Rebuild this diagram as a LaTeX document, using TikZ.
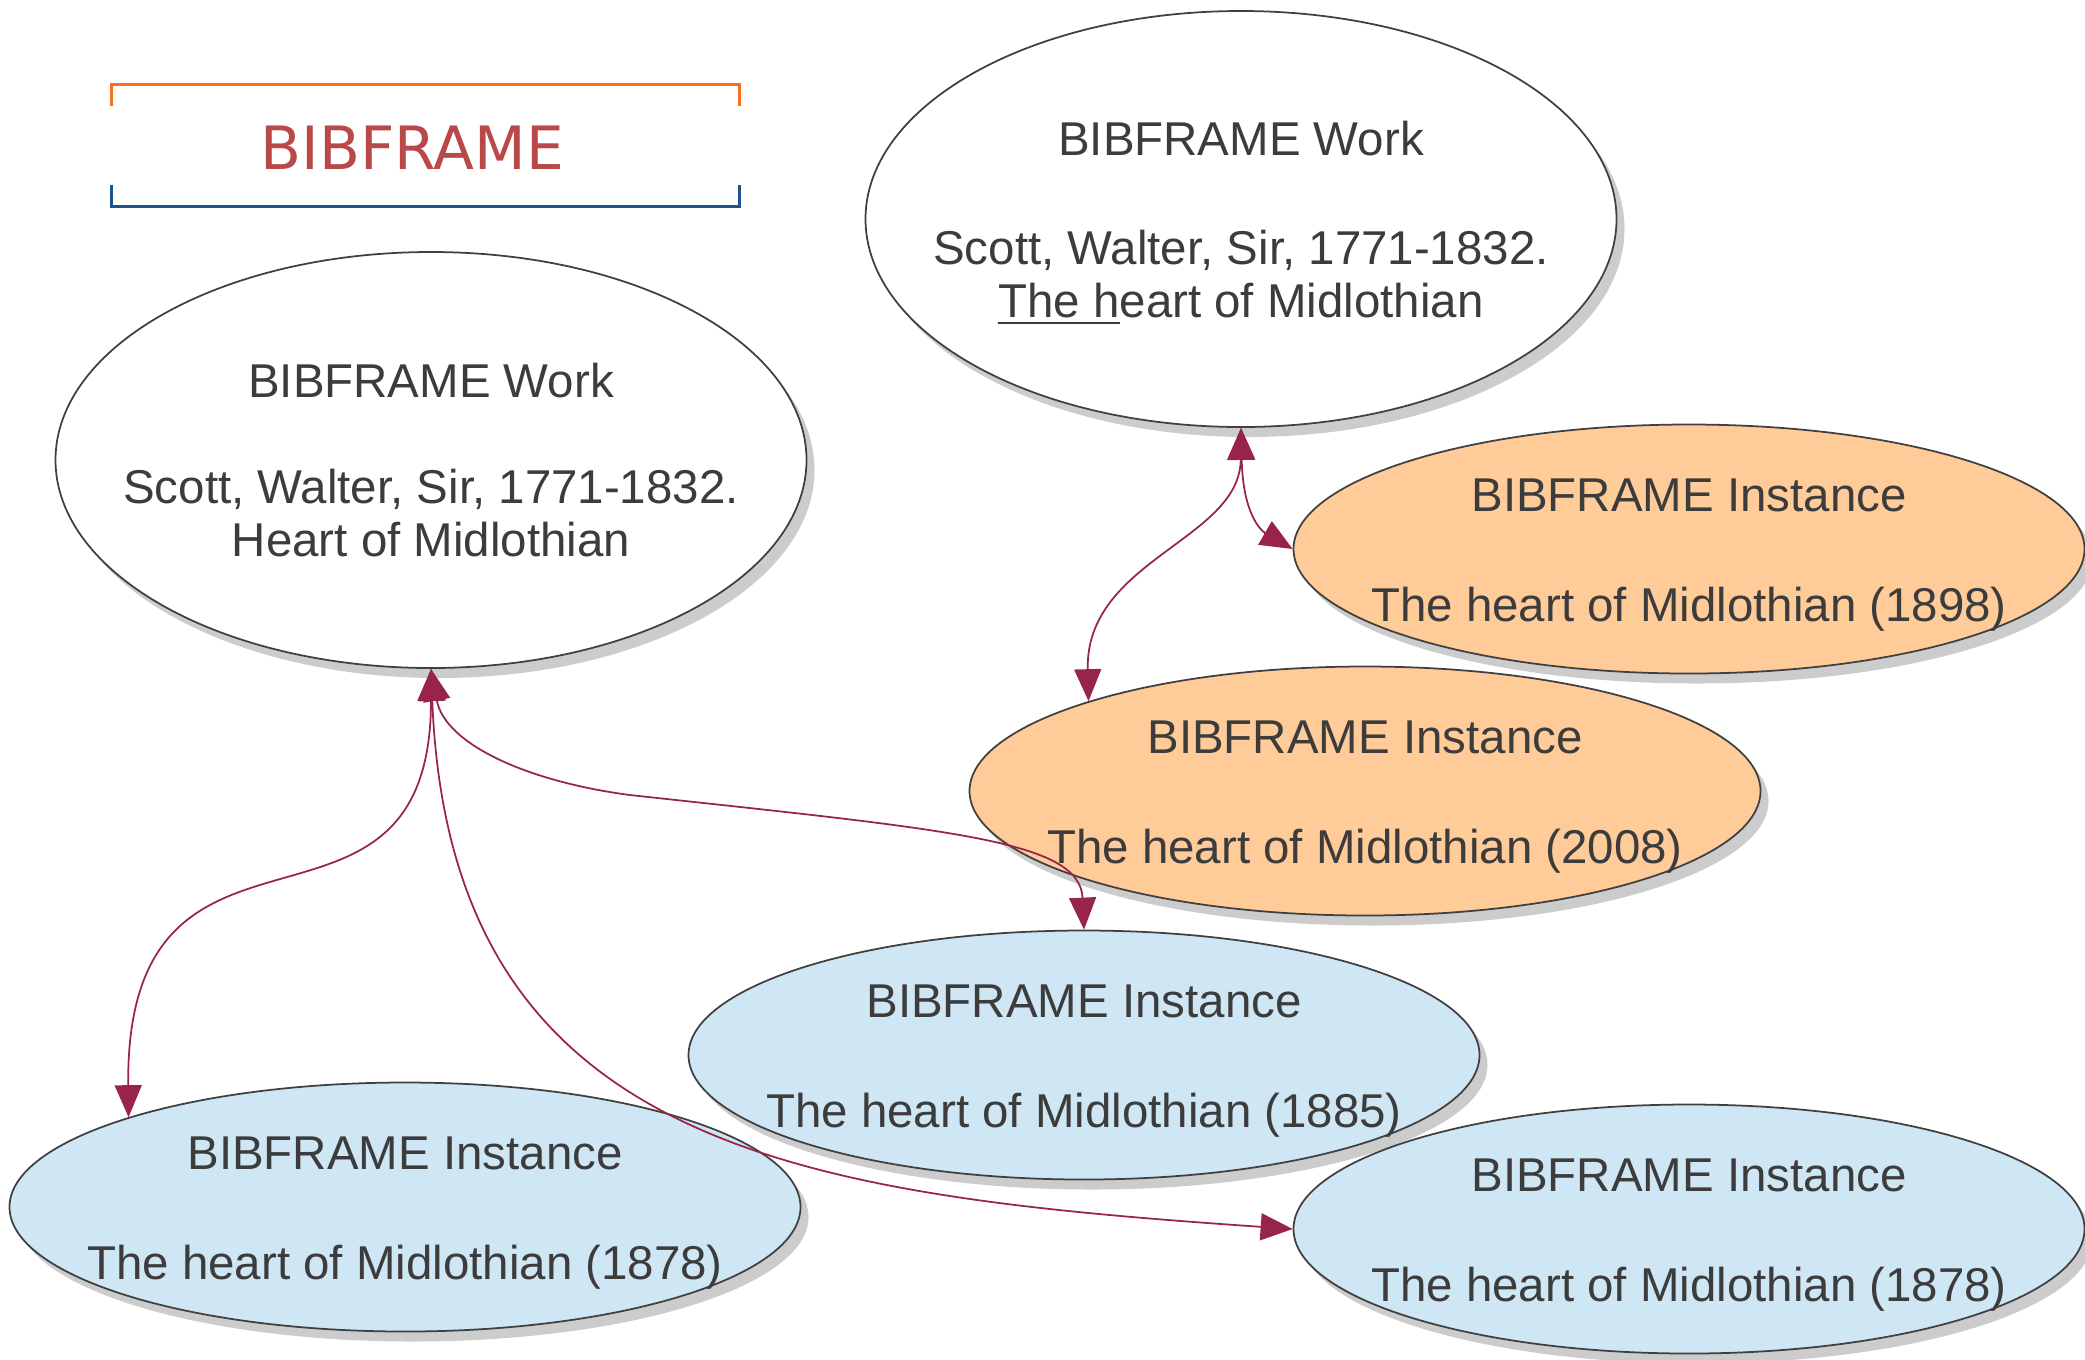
\documentclass[tikz,border=0pt]{standalone}
\usepackage{fontspec}
\setmainfont{Liberation Sans}
\newfontfamily\titlefont{DejaVu Sans}
\usepackage{tikz}
\usetikzlibrary{arrows.meta, positioning, shapes.geometric, shadows}
\definecolor{myred}{RGB}{185,72,72}
\definecolor{myorange}{RGB}{245,112,32}
\definecolor{myblue}{RGB}{32,82,140}
\definecolor{mywine}{RGB}{153,36,73}
\definecolor{mygrey}{RGB}{60,60,60}
\definecolor{lightorange}{RGB}{255,204,153}
\definecolor{lightblue}{RGB}{207,230,244}

\tikzset{
  blob/.style={ellipse, draw=black!75, line width=0.5pt, inner sep=0pt,
    drop shadow={shadow xshift=0.08cm, shadow yshift=-0.1cm, fill=black!20, opacity=1}},
  work/.style={blob, fill=white, minimum width=7.51cm, minimum height=4.16cm},
  instance/.style={blob, minimum width=7.91cm, minimum height=2.49cm},
  blobtext/.style={align=center, text=mygrey, font=\fontsize{13.5pt}{15.1pt}\selectfont},
  link/.style={mywine, line width=0.5pt,
    {Triangle[length=0.32cm,width=0.27cm]}-{Triangle[length=0.32cm,width=0.27cm]}}
}

\begin{document}
\begin{tikzpicture}
    \useasboundingbox (0,0) rectangle (20.85,-13.59);

    % Title
    \node[minimum width=6.27cm, minimum height=1.21cm] (title) at (4.255,-1.455) {};
    \node[font=\titlefont\fontsize{17pt}{20pt}\selectfont, text=myred] (titletext)
        at ([xshift=-0.13cm,yshift=-0.02cm]title.center) {BIBFRAME};
    \draw[myorange, line width=0.8pt] ([yshift=-0.22cm]title.north west) -- (title.north west)
        -- (title.north east) -- ([yshift=-0.22cm]title.north east);
    \draw[myblue, line width=0.8pt] ([yshift=0.22cm]title.south west) -- (title.south west)
        -- (title.south east) -- ([yshift=0.22cm]title.south east);

    % Works
    \node[work] (w2) at (12.41,-2.19) {};
    \node[blobtext] (w2text) at ([yshift=-0.04cm]w2.center) {BIBFRAME Work\\[16pt]Scott, Walter, Sir, 1771-1832.\\\underline{The h}eart of Midlothian};
    \node[work] (w1) at (4.31,-4.60) {};
    \node[blobtext] (w1text) at (w1.center) {BIBFRAME Work\\[15.1pt]Scott, Walter, Sir, 1771-1832.\\Heart of Midlothian};

    % Instances
    \node[instance, fill=lightorange] (i1898) at (16.89,-5.49) {};
    \node[blobtext] (i1898text) at ([yshift=-0.06cm]i1898.center) {BIBFRAME Instance\\[16.3pt]The heart of Midlothian (1898)};
    \node[instance, fill=lightorange] (i2008) at (13.65,-7.91) {};
    \node[blobtext] (i2008text) at ([yshift=-0.06cm]i2008.center) {BIBFRAME Instance\\[16.3pt]The heart of Midlothian (2008)};
    \node[instance, fill=lightblue] (i1885) at (10.84,-10.55) {};
    \node[blobtext] (i1885text) at ([yshift=-0.06cm]i1885.center) {BIBFRAME Instance\\[16.3pt]The heart of Midlothian (1885)};
    \node[instance, fill=lightblue] (i1878a) at (4.05,-12.07) {};
    \node[blobtext] (i1878atext) at ([yshift=-0.06cm]i1878a.center) {BIBFRAME Instance\\[16.3pt]The heart of Midlothian (1878)};
    \node[instance, fill=lightblue] (i1878b) at (16.89,-12.29) {};
    \node[blobtext] (i1878btext) at ([yshift=-0.06cm]i1878b.center) {BIBFRAME Instance\\[16.3pt]The heart of Midlothian (1878)};

    % Arrows
    \draw[link] (w2.south) .. controls (12.40,-5.40) and (10.85,-5.60) .. (i2008.162);
    \draw[link] (w2.south) .. controls (12.43,-5.20) and (12.65,-5.33) .. (i1898.west);
    \draw[link] (w1.south) .. controls (4.31,-9.80) and (1.25,-7.70) .. (i1878a.162);
    \draw[link] (w1.south) .. controls (4.45,-7.45) and (5.30,-7.82) .. (6.30,-7.95)
        .. controls (9.50,-8.30) and (10.80,-8.40) .. (i1885.north);
    \draw[link] (w1.south) .. controls (4.50,-11.50) and (8.00,-11.95) .. (i1878b.west);
\end{tikzpicture}
\end{document}
